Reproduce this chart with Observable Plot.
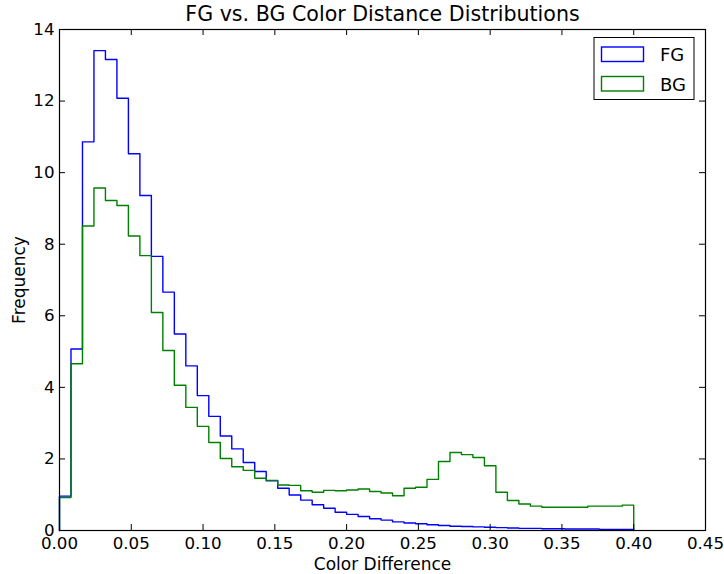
<!DOCTYPE html>
<html>
<head>
<meta charset="utf-8">
<script src="https://cdn.jsdelivr.net/npm/d3@7"></script>
<script src="https://cdn.jsdelivr.net/npm/@observablehq/plot@0.6"></script>
<style>
  body { margin: 0; background: #fff; }
  svg { display: block; }
</style>
</head>
<body>
<div id="chart"></div>
<script>
// Histogram bins: 50 bins of width 0.008 from 0 to 0.40
const binWidth = 0.008;

// Normalised frequency per bin, foreground pixels
const fgFreq = [
  0.96, 5.07, 10.86, 13.41, 13.16, 12.08, 10.53, 9.36, 7.66, 6.66,
  5.49, 4.60, 3.77, 3.19, 2.64, 2.28, 1.90, 1.65, 1.39, 1.18,
  0.99, 0.85, 0.72, 0.62, 0.51, 0.45, 0.39, 0.33, 0.29, 0.24,
  0.21, 0.19, 0.16, 0.14, 0.12, 0.11, 0.10, 0.09, 0.08, 0.07,
  0.06, 0.06, 0.05, 0.05, 0.04, 0.04, 0.04, 0.03, 0.03, 0.03
];

// Normalised frequency per bin, background pixels
const bgFreq = [
  0.92, 4.66, 8.51, 9.57, 9.22, 9.08, 8.23, 7.68, 6.09, 5.03,
  4.06, 3.44, 2.91, 2.46, 2.01, 1.78, 1.68, 1.46, 1.40, 1.27,
  1.26, 1.11, 1.07, 1.12, 1.11, 1.13, 1.16, 1.09, 1.05, 0.97,
  1.18, 1.21, 1.43, 1.93, 2.18, 2.12, 2.04, 1.81, 1.07, 0.84,
  0.74, 0.68, 0.65, 0.65, 0.65, 0.65, 0.68, 0.68, 0.68, 0.71
];

const seriesNames = ["FG", "BG"];
const seriesColors = ["#0000ff", "#008000"];

const xTicks = [0, 0.05, 0.10, 0.15, 0.20, 0.25, 0.30, 0.35, 0.40, 0.45];
const yTicks = [0, 2, 4, 6, 8, 10, 12, 14];

const titleText = "FG vs. BG Color Distance Distributions";
const xLabel = "Color Difference";
const yLabel = "Frequency";

// Outline of a step histogram: rise at the first edge, fall at the last
function stepOutline(values, name) {
  const pts = [{x: 0, y: 0, series: name}];
  values.forEach((v, i) => pts.push({x: i * binWidth, y: v, series: name}));
  const end = values.length * binWidth;
  pts.push({x: end, y: values[values.length - 1], series: name});
  pts.push({x: end, y: 0, series: name});
  return pts;
}

const fgPts = stepOutline(fgFreq, seriesNames[0]);
const bgPts = stepOutline(bgFreq, seriesNames[1]);

const W = 724, H = 574;
const mL = 59, mR = 19, mT = 29, mB = 44;
const fw = W - mL - mR, fh = H - mT - mB;
const tickLen = 6;
const font = "DejaVu Sans";
const fs = 16.7;

const chart = Plot.plot({
  width: W,
  height: H,
  marginLeft: mL,
  marginRight: mR,
  marginTop: mT,
  marginBottom: mB,
  style: {fontFamily: font, fontSize: fs + "px", background: "#fff", color: "#000", overflow: "visible"},
  x: {domain: [0, 0.45]},
  y: {domain: [0, 14]},
  marks: [
    Plot.line(fgPts, {x: "x", y: "y", curve: "step-after", stroke: seriesColors[0], strokeWidth: 1.4}),
    Plot.line(bgPts, {x: "x", y: "y", curve: "step-after", stroke: seriesColors[1], strokeWidth: 1.4}),
    // inward ticks on all four sides
    Plot.ruleX(xTicks, {x: d => d, insetTop: fh - tickLen, stroke: "#000", strokeWidth: 1}),
    Plot.ruleX(xTicks, {x: d => d, insetBottom: fh - tickLen, stroke: "#000", strokeWidth: 1}),
    Plot.ruleY(yTicks, {y: d => d, insetRight: fw - tickLen, stroke: "#000", strokeWidth: 1}),
    Plot.ruleY(yTicks, {y: d => d, insetLeft: fw - tickLen, stroke: "#000", strokeWidth: 1}),
    Plot.axisX(xTicks, {tickSize: 0, tickPadding: 7, tickFormat: d3.format(".2f"), label: null, fontSize: fs}),
    Plot.axisY(yTicks, {tickSize: 0, tickPadding: 5, tickFormat: d3.format("d"), label: null, fontSize: fs}),
    Plot.frame({stroke: "#000", strokeWidth: 1.2}),
    Plot.text([titleText], {text: d => d, frameAnchor: "top", textAnchor: "middle", lineAnchor: "bottom", dy: -9, fontSize: 20.6}),
    Plot.text([xLabel], {text: d => d, frameAnchor: "bottom", textAnchor: "middle", lineAnchor: "middle", dy: 34, fontSize: 17}),
    Plot.text([yLabel], {text: d => d, frameAnchor: "left", textAnchor: "middle", lineAnchor: "middle", dx: -40, rotate: -90, fontSize: 17})
  ]
});

// Legend box in the upper right corner of the frame
const svg = d3.select(chart);
const boxW = 100, boxH = 62;
const boxX = mL + fw - 11 - boxW, boxY = mT + 8.5;
const lg = svg.append("g").attr("font-family", font).attr("font-size", 18).attr("text-anchor", "start");
lg.append("rect")
  .attr("x", boxX).attr("y", boxY).attr("width", boxW).attr("height", boxH)
  .attr("fill", "#fff").attr("stroke", "#000").attr("stroke-width", 1);
seriesNames.forEach((name, i) => {
  const rowY = boxY + 9.5 + i * 29.5;
  lg.append("rect")
    .attr("x", boxX + 7.5).attr("y", rowY).attr("width", 42).attr("height", 14.5)
    .attr("fill", "none").attr("stroke", seriesColors[i]).attr("stroke-width", 1.4);
  lg.append("text")
    .attr("x", boxX + 66).attr("y", rowY + 14)
    .attr("fill", "#000")
    .text(name);
});

document.getElementById("chart").append(chart);
</script>
</body>
</html>
